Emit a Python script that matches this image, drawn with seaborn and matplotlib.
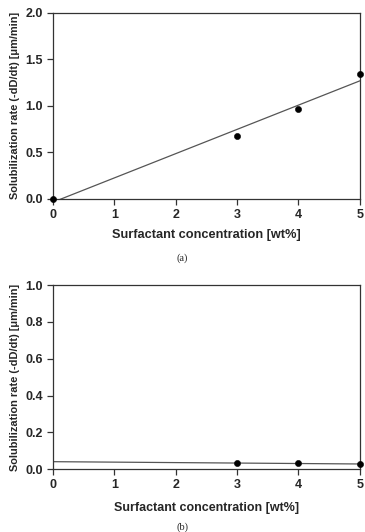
import matplotlib
matplotlib.use("Agg")

import matplotlib.pyplot as plt
import numpy as np
import pandas as pd
import seaborn as sns

# data
conc_a = [0, 3, 4, 5]
rate_a = [0.0, 0.68, 0.97, 1.34]

conc_b = [3, 4, 5]
rate_b = [0.033, 0.032, 0.028]

x_ticks = [0, 1, 2, 3, 4, 5]
y_ticks_a = [0.0, 0.5, 1.0, 1.5, 2.0]
y_ticks_b = [0.0, 0.2, 0.4, 0.6, 0.8, 1.0]

sns.set_theme(style="ticks")
plt.rcParams["font.family"] = ["Liberation Sans", "DejaVu Sans"]

fig = plt.figure(figsize=(3.65, 5.32), dpi=100)
ax_a = fig.add_axes([0.145, 0.626, 0.841, 0.350])
ax_b = fig.add_axes([0.145, 0.118, 0.841, 0.346])


def draw_panel(ax, x, y, yticks, ylim, xlabel_size=9.2, xlabel_pad=6):
    df = pd.DataFrame({"x": x, "y": y})
    # linear fit line over the whole axis range
    k, b = np.polyfit(df["x"], df["y"], 1)
    line_x = np.array([0, 5])
    sns.lineplot(x=line_x, y=k * line_x + b, ax=ax, color="#555555", linewidth=0.9)
    sns.scatterplot(data=df, x="x", y="y", ax=ax, color="black", s=20,
                    edgecolor="black", zorder=5, clip_on=False)
    ax.set_xlim(0, 5)
    ax.set_ylim(*ylim)
    ax.set_xticks(x_ticks)
    ax.set_yticks(yticks)
    ax.set_xticklabels([str(t) for t in x_ticks], fontweight="bold", fontsize=9)
    ax.set_yticklabels([f"{t:.1f}" for t in yticks], fontweight="bold", fontsize=9)
    ax.set_xlabel("Surfactant concentration [wt%]", fontweight="bold",
                  fontsize=xlabel_size, labelpad=xlabel_pad)
    ax.set_ylabel("Solubilization rate (-dD/dt) [μm/min]", fontweight="bold",
                  fontsize=7.9, labelpad=4)
    for s in ax.spines.values():
        s.set_visible(True)
        s.set_linewidth(0.9)
        s.set_color("#333333")
    ax.tick_params(direction="out", length=4, width=0.9, color="#333333", pad=3)


draw_panel(ax_a, conc_a, rate_a, y_ticks_a, (0, 2.0))
draw_panel(ax_b, conc_b, rate_b, y_ticks_b, (0, 1.0), xlabel_size=9, xlabel_pad=8)

fig.text(0.5, 1 - 258 / 532, "(a)", ha="center", va="center", fontsize=7.5,
         family=["Liberation Serif", "DejaVu Serif"])
fig.text(0.5, 1 - 527 / 532, "(b)", ha="center", va="center", fontsize=7.5,
         family=["Liberation Serif", "DejaVu Serif"])

fig.savefig("out.png", dpi=100, facecolor="white")
